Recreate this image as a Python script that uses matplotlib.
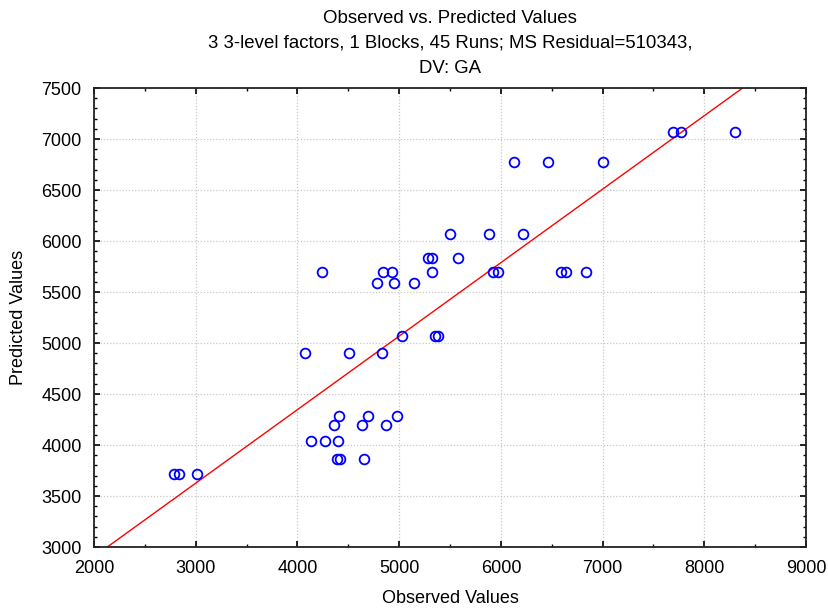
#!/usr/bin/env python3
# -*- coding: utf-8 -*-

import numpy as np
import matplotlib
matplotlib.use("Agg")
import matplotlib.pyplot as plt
from matplotlib.ticker import MultipleLocator

# Observed vs predicted GA values for the 45 runs
observed = [
    4239, 4838, 4927, 4786, 4953, 5143, 5287, 5326, 5326, 5500,
    7690, 7769, 8305, 6129, 6461, 7001, 5887, 6221, 5582, 5926,
    5969, 6591, 6641, 6837, 2787, 2836, 3010, 4074, 4507, 4828,
    5031, 5350, 5380, 4412, 4697, 4982, 4363, 4632, 4874, 4134,
    4275, 4402, 4386, 4419, 4658,
]
predicted = [
    5700, 5700, 5700, 5590, 5590, 5590, 5830, 5830, 5700, 6070,
    7070, 7070, 7070, 6770, 6770, 6770, 6070, 6070, 5830, 5700,
    5700, 5700, 5700, 5700, 3720, 3720, 3720, 4900, 4900, 4900,
    5070, 5070, 5070, 4280, 4280, 4280, 4200, 4200, 4200, 4040,
    4040, 4040, 3860, 3860, 3860,
]

TITLE = ("Observed vs. Predicted Values\n"
         "3 3-level factors, 1 Blocks, 45 Runs; MS Residual=510343,\n"
         "DV: GA")


def main():
    plt.rcParams["font.family"] = ["Liberation Sans", "DejaVu Sans"]
    plt.rcParams["font.size"] = 13

    fig = plt.figure(figsize=(8.29, 6.12), dpi=100)
    ax = fig.add_axes([0.1134, 0.1062, 0.8589, 0.75])

    x = np.array(observed, dtype=float)
    y = np.array(predicted, dtype=float)

    # least-squares fit of predicted on observed
    slope, intercept = np.polyfit(x, y, 1)
    xs = np.array([1500.0, 9500.0])
    ax.plot(xs, intercept + slope * xs, color="red", linewidth=1.0, zorder=2)

    ax.plot(x, y, linestyle="None", marker="o", markersize=7,
            markerfacecolor="none", markeredgecolor="#0000ff",
            markeredgewidth=1.3, zorder=3)

    ax.set_xlim(2000, 9000)
    ax.set_ylim(3000, 7500)
    ax.xaxis.set_major_locator(MultipleLocator(1000))
    ax.xaxis.set_minor_locator(MultipleLocator(500))
    ax.yaxis.set_major_locator(MultipleLocator(500))
    ax.yaxis.set_minor_locator(MultipleLocator(100))
    ax.tick_params(which="both", direction="in", top=True, right=True,
                   color="black", labelsize=13)
    ax.tick_params(which="major", length=4, width=1.2, pad=9)
    ax.tick_params(which="minor", length=2.5, width=1.0)
    ax.grid(True, which="major", linestyle=(0, (1, 1.5)), color="#c8c8c8",
            linewidth=0.9)
    ax.set_axisbelow(True)
    for spine in ax.spines.values():
        spine.set_linewidth(1.3)
        spine.set_color("#222222")

    ax.set_xlabel("Observed Values", fontsize=13, labelpad=10)
    ax.set_ylabel("Predicted Values", fontsize=13, labelpad=10)
    ax.set_title(TITLE, fontsize=13.4, linespacing=1.6, pad=11)

    fig.savefig("out.png", dpi=100)


if __name__ == "__main__":
    main()
